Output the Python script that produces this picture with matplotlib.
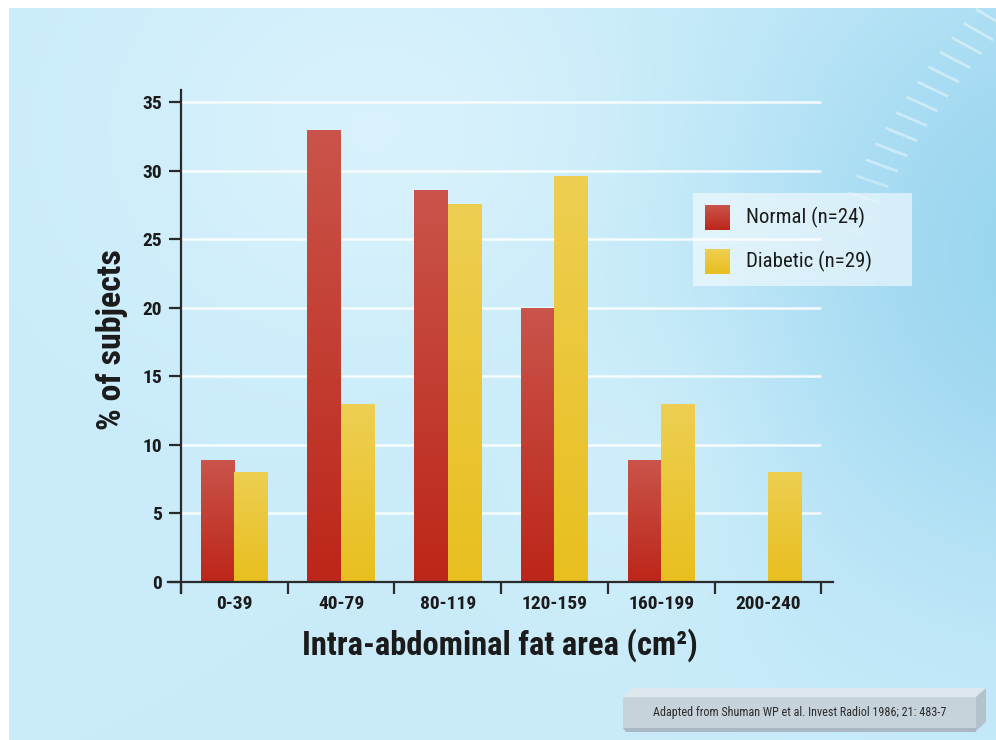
import numpy as np
import matplotlib
matplotlib.use("Agg")
import matplotlib.pyplot as plt
import matplotlib.font_manager as fm
from matplotlib.patches import Rectangle, Polygon

# ---- data -------------------------------------------------------------
categories = ["0-39", "40-79", "80-119", "120-159", "160-199", "200-240"]
normal = [8.9, 33.0, 28.6, 20.0, 8.9, 0.0]
diabetic = [8.0, 13.0, 27.6, 29.6, 13.0, 8.0]
series_labels = ["Normal (n=24)", "Diabetic (n=29)"]
y_ticks = [0, 5, 10, 15, 20, 25, 30, 35]
x_title = "Intra-abdominal fat area (cm²)"
y_title = "% of subjects"
source_note = "Adapted from Shuman WP et al. Invest Radiol 1986; 21: 483-7"

# ---- fonts ------------------------------------------------------------
available = {f.name for f in fm.fontManager.ttflist}
FONT = "Roboto"
for cand in ("Liberation Sans Narrow", "Roboto Condensed", "Arial Narrow"):
    if cand in available:
        FONT = cand
        break
plt.rcParams["font.family"] = [FONT, "DejaVu Sans"]
TXT = "#1b1b1b"

W, H = 996, 740
fig = plt.figure(figsize=(W / 100, H / 100), dpi=100)

# ---- background panel -------------------------------------------------
yy, xx = np.mgrid[0:H, 0:W].astype(float)
base = np.array([202, 236, 250]) / 255
deep = np.array([148, 211, 238]) / 255
light = np.array([226, 246, 253]) / 255
w_deep = 0.9 * np.exp(-(((xx - 1060) / 330) ** 2 + ((yy - 250) / 340) ** 2))
w_light = 0.6 * np.exp(-(((xx - 380) / 260) ** 2 + ((yy - 130) / 210) ** 2))
w_light2 = 0.3 * np.exp(-(((xx - 640) / 120) ** 2 + ((yy - 470) / 160) ** 2))
img = base * (1 - w_deep)[..., None] + deep * w_deep[..., None]
img = img * (1 - w_light)[..., None] + light * w_light[..., None]
img = img * (1 - w_light2)[..., None] + light * w_light2[..., None]
img[:8, :] = 1.0
img[:, :9] = 1.0

bg = fig.add_axes([0, 0, 1, 1], zorder=0)
bg.imshow(img, extent=(0, W, H, 0), aspect="auto", interpolation="bilinear")

# decorative dial of short strokes in the upper right
cx, cy, R = 1703, 657, 957
for ang in np.arange(206.5, 224, 1.1):
    a = np.deg2rad(ang)
    d = np.deg2rad(ang - 11)
    mx, my = cx + R * np.cos(a), cy + R * np.sin(a)
    fade = np.clip((ang - 205) / 6, 0.2, 1.0)
    bg.plot([mx - 17 * np.cos(d), mx + 17 * np.cos(d)],
            [my - 17 * np.sin(d), my + 17 * np.sin(d)],
            color="white", lw=2.0, alpha=0.42 * fade, solid_capstyle="butt")
bg.set_xlim(0, W)
bg.set_ylim(H, 0)
bg.axis("off")

# ---- main axes --------------------------------------------------------
ax = fig.add_axes([168 / W, 1 - 592.5 / H, 665 / W, 502.5 / H], zorder=2)
ax.patch.set_alpha(0)

x = np.arange(len(categories))
bw = 0.315

ax.hlines(y_ticks[1:], -0.5, len(categories) - 0.5, colors="white",
          linewidth=1.8, alpha=0.85, zorder=1)

red_top, red_bot = np.array([0.79, 0.33, 0.29]), np.array([0.74, 0.15, 0.10])
yel_top, yel_bot = np.array([0.93, 0.81, 0.32]), np.array([0.91, 0.75, 0.12])

def gradient_bars(xpos, vals, top, bot):
    bars = ax.bar(xpos, vals, bw, color=(top + bot) / 2, linewidth=0, zorder=2)
    grad = np.linspace(0, 1, 128)[:, None, None]
    rgb = bot * (1 - grad) + top * grad
    for b in bars:
        h = b.get_height()
        if h <= 0:
            continue
        im = ax.imshow(rgb, extent=(b.get_x(), b.get_x() + b.get_width(), 0, h),
                       origin="lower", aspect="auto", zorder=3,
                       interpolation="bilinear")
        im.set_clip_path(b)
    return bars

gradient_bars(x - bw / 2, normal, red_top, red_bot)
gradient_bars(x + bw / 2, diabetic, yel_top, yel_bot)

ax.set_xlim(-0.622, 5.61)
ax.set_ylim(-0.8, 35.9)

for s in ("top", "right"):
    ax.spines[s].set_visible(False)
ax.spines["left"].set_position(("data", -0.5))
ax.spines["bottom"].set_position(("data", 0))
for s in ("left", "bottom"):
    ax.spines[s].set_color("#2a2a2a")
    ax.spines[s].set_linewidth(1.6)
    ax.spines[s].set_zorder(4)

ax.set_yticks(y_ticks)
ax.set_yticklabels([str(v) for v in y_ticks], fontsize=14, fontweight="bold", color=TXT)
ax.tick_params(axis="y", direction="out", length=8.5, width=1.6, color="#2a2a2a", pad=5)

ax.set_xticks(np.arange(len(categories) + 1) - 0.5)
ax.set_xticklabels([])
ax.tick_params(axis="x", which="major", direction="out", length=8.5, width=1.6,
               color="#2a2a2a")
ax.set_xticks(x, minor=True)
ax.set_xticklabels(categories, minor=True, fontsize=14, fontweight="bold", color=TXT)
ax.tick_params(axis="x", which="minor", length=0, pad=10)

ax.set_xlabel(x_title, fontsize=23.5, fontweight="bold", color=TXT, va="center")
ax.xaxis.set_label_coords((500 - 168) / 665, (592.5 - 645) / 502.5)
ax.set_ylabel(y_title, fontsize=24.5, fontweight="bold", color=TXT, va="center")
ax.yaxis.set_label_coords((112 - 168) / 665, (592.5 - 340) / 502.5)

# ---- overlay: legend box and source note -------------------------------
ov = fig.add_axes([0, 0, 1, 1], zorder=5)

ov.add_patch(Rectangle((693, 193), 219, 93, facecolor="white", alpha=0.55,
                       edgecolor="none", zorder=1))
for (top, bot), label, yc in zip([(red_top, red_bot), (yel_top, yel_bot)],
                                 series_labels, [217.5, 261.5]):
    grad = np.linspace(0, 1, 64)[:, None, None]
    ov.imshow(bot * grad + top * (1 - grad), extent=(705, 730, yc + 12.5, yc - 12.5),
              aspect="auto", interpolation="bilinear", origin="upper", zorder=3)
    ov.text(745.5, yc, label, fontsize=15, color=TXT, va="center", ha="left", zorder=3)

# bevelled plate for the source note
ov.add_patch(Polygon([(623, 697), (976, 697), (986, 688), (632, 688)],
                     closed=True, facecolor="#dde8ee", edgecolor="none"))
ov.add_patch(Polygon([(976, 697), (986, 688), (986, 722), (976, 731)],
                     closed=True, facecolor="#b3c2cb", edgecolor="none"))
ov.add_patch(Rectangle((623, 697), 353, 31, facecolor="#c6d3db", edgecolor="none"))
ov.add_patch(Polygon([(623, 728), (976, 728), (976, 732), (626, 732)],
                     closed=True, facecolor="#a9b8c2", edgecolor="none"))
ov.text(800, 712.5, source_note, fontsize=8.7, color="#2b2b2b", ha="center", va="center")
ov.set_xlim(0, W)
ov.set_ylim(H, 0)
ov.axis("off")

fig.savefig("out.png", dpi=100)
